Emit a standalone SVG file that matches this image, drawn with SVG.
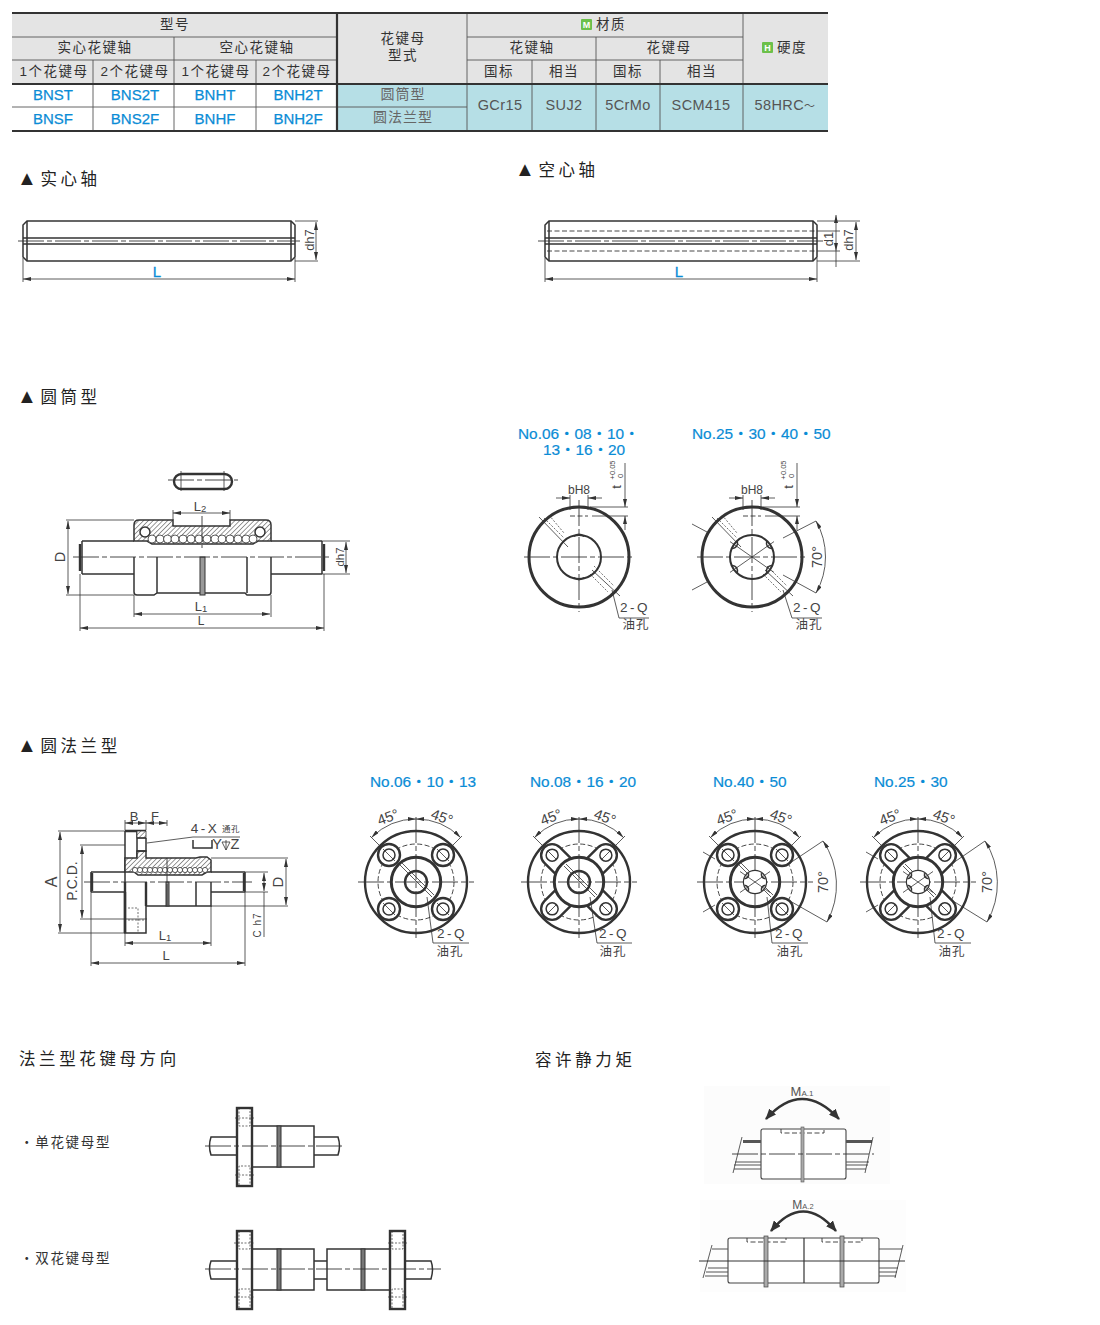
<svg xmlns="http://www.w3.org/2000/svg" width="1100" height="1325" viewBox="0 0 1100 1325">
<style>
text{font-family:"Liberation Sans","Noto Sans CJK SC",sans-serif;fill:#444}
.hd{font-size:13.5px;text-anchor:middle;letter-spacing:1.5px;fill:#333}
.sm{font-size:13.5px;text-anchor:middle;letter-spacing:1.5px;fill:#333}
.bl{font-size:15px;text-anchor:middle;fill:#0a8cd6;stroke:#0a8cd6;stroke-width:.25px}
.cy{font-size:14.5px;text-anchor:middle;fill:#555;letter-spacing:.4px}
.cn{font-size:14px;text-anchor:middle;fill:#666;letter-spacing:1px}
.ti{font-size:16.5px;letter-spacing:3.6px;fill:#222}
.no{font-size:15.4px;fill:#0a8cd6;stroke:#0a8cd6;stroke-width:.2px}
.dm{font-size:13px;text-anchor:middle;fill:#444}
.lg{font-size:14.5px;text-anchor:middle;fill:#444}
.q{font-size:13.5px;text-anchor:middle;letter-spacing:2.5px;fill:#444}
.sub{font-size:12.5px;text-anchor:middle;letter-spacing:1px;fill:#444}
.it{font-size:13.5px;letter-spacing:1.7px;fill:#333}
.L{font-size:15px;text-anchor:middle;fill:#0a8cd6;stroke:#0a8cd6;stroke-width:.3px}
.l,.t,.h,.x,.c,.d,.o{fill:none;stroke:#333}
.l{stroke-width:.8}
.t{stroke-width:1.5}
.h{stroke-width:2.4}
.x{stroke-width:3}
.c{stroke-width:.9;stroke-dasharray:26 3 5 3}
.d{stroke-width:.9;stroke-dasharray:5 2.5}
.o{stroke-width:.7;stroke-dasharray:2 1.5}
.w{fill:#fff}
.a{marker-start:url(#ar);marker-end:url(#ar)}
.g{stroke:#555;stroke-width:.9;fill:none}
</style>
<defs>
<marker id="ar" viewBox="0 0 8 4" refX="8" refY="2" markerWidth="8" markerHeight="4" markerUnits="userSpaceOnUse" orient="auto-start-reverse"><path d="M0 0L8 2L0 4z" fill="#333"/></marker>
<marker id="ab" viewBox="0 0 11 9" refX="10" refY="4.5" markerWidth="11" markerHeight="9" markerUnits="userSpaceOnUse" orient="auto-start-reverse"><path d="M0 0L11 4.5L0 9z" fill="#333"/></marker>
<pattern id="ha" width="3.4" height="3.4" patternUnits="userSpaceOnUse" patternTransform="rotate(45)"><rect width="3.4" height="3.4" fill="#fff"/><line x1="0" y1="0" x2="0" y2="3.4" stroke="#333" stroke-width="1"/></pattern>
<g id="fbase">
<circle r="51" class="h"/>
<circle r="38" class="d"/>
<path class="c" d="M-58 0H58M0 -65V56"/>
<path class="l a" d="M-44.5 -44.5A63 63 0 0 1 0 -63"/>
<path class="l a" d="M44.5 -44.5A63 63 0 0 0 0 -63"/>
<path class="l" d="M-46 -46L-35 -35M46 -46L35 -35"/>
<path class="l" d="M-32 -32L-22 -22M32 -32L22 -22M-32 32L-22 22M32 32L22 22"/>
<path class="l" d="M-17 -18L16 15M-15 -20L18 13"/>
</g>
<g id="bossA">
<circle r="11" class="h w"/><circle r="6" class="t"/><path class="l" d="M-6 -6L6 6"/>
</g>
<g id="arm">
<path class="h w" d="M22 -11H38A11 11 0 0 1 38 11H22"/><circle cx="38" r="6" class="t"/><path class="l" d="M32 0H44"/>
</g>
<g id="inner4">
<circle r="11" class="w"/>
<path class="l" d="M-15 -10.500L15 10.500M-15 10.500L15 -10.500"/>
<g class="t"><path transform="rotate(35)" d="M10.500 -3.500Q7 0 10.500 3.500"/><path transform="rotate(-35)" d="M10.500 -3.500Q7 0 10.500 3.500"/><path transform="rotate(145)" d="M10.500 -3.500Q7 0 10.500 3.500"/><path transform="rotate(215)" d="M10.500 -3.500Q7 0 10.500 3.500"/></g>
</g>
</defs>
<rect width="1100" height="1325" fill="#fff"/>

<g id="spec-table">
<rect x="12" y="13" width="816" height="71" fill="#e4e4e4"/>
<rect x="337" y="84" width="491" height="47" fill="#b6dfe6"/>
<path class="g" d="M12 37H337M12 60H337M467 37H743M467 60H743M12 107H467M93 60V131M256 60V131M174 37V131M467 13V131M532 60V131M660 60V131M596 37V131M743 13V131"/>
<path stroke="#333" stroke-width="2.200" fill="none" d="M12 13H828M12 84H828M12 131H828M337 13V131"/>
<text class="hd" x="175" y="29">型号</text>
<text class="hd" x="95" y="52">实心花键轴</text>
<text class="hd" x="257" y="52">空心花键轴</text>
<text class="sm" x="54" y="76">1个花键母</text>
<text class="sm" x="135" y="76">2个花键母</text>
<text class="sm" x="216" y="76">1个花键母</text>
<text class="sm" x="297" y="76">2个花键母</text>
<text class="hd" x="403" y="43">花键母</text>
<text class="hd" x="403" y="60">型式</text>
<rect x="581" y="19" width="11" height="11" rx="1" fill="#6cc04a"/>
<text x="586.500" y="28" font-size="9" text-anchor="middle" style="fill:#fff" font-weight="700">M</text>
<text class="hd" x="611" y="29">材质</text>
<text class="hd" x="532" y="52">花键轴</text>
<text class="hd" x="669" y="52">花键母</text>
<text class="sm" x="499" y="76">国标</text>
<text class="sm" x="564" y="76">相当</text>
<text class="sm" x="628" y="76">国标</text>
<text class="sm" x="702" y="76">相当</text>
<rect x="762" y="42" width="11" height="11" rx="1" fill="#6cc04a"/>
<text x="767.500" y="51" font-size="9" text-anchor="middle" style="fill:#fff" font-weight="700">H</text>
<text class="hd" x="792" y="52">硬度</text>
<text class="bl" x="53" y="100">BNST</text>
<text class="bl" x="135" y="100">BNS2T</text>
<text class="bl" x="215" y="100">BNHT</text>
<text class="bl" x="298" y="100">BNH2T</text>
<text class="bl" x="53" y="124">BNSF</text>
<text class="bl" x="135" y="124">BNS2F</text>
<text class="bl" x="215" y="124">BNHF</text>
<text class="bl" x="298" y="124">BNH2F</text>
<text class="cn" x="403" y="99">圆筒型</text>
<text class="cn" x="403" y="122">圆法兰型</text>
<text class="cy" x="500" y="110">GCr15</text>
<text class="cy" x="564" y="110">SUJ2</text>
<text class="cy" x="628" y="110">5CrMo</text>
<text class="cy" x="701" y="110">SCM415</text>
<text class="cy" x="785" y="110">58HRC<tspan font-size="11">～</tspan></text>
</g>

<g id="titles">
<text class="ti" x="17" y="185"><tspan font-size="20">▲</tspan>实心轴</text>
<text class="ti" x="515" y="176"><tspan font-size="20">▲</tspan>空心轴</text>
<text class="ti" x="17" y="403"><tspan font-size="20">▲</tspan>圆筒型</text>
<text class="ti" x="17" y="752"><tspan font-size="20">▲</tspan>圆法兰型</text>
<text class="ti" x="19" y="1065">法兰型花键母方向</text>
<text class="ti" x="535" y="1066">容许静力矩</text>
</g>

<g id="solid-shaft">
<path class="t" d="M27 221H291L295 225V257L291 261H27L23 257V225Z"/>
<path class="t" d="M27 221V261M291 221V261M23 238H295M23 244H295"/>
<path class="c" stroke="#666" d="M18 241H300"/>
<path class="l" d="M295 221H318M295 261H318M23 258V282M295 258V282"/>
<path class="l a" d="M316 222V260"/>
<path class="l a" d="M23 279H295"/>
<text class="dm" transform="rotate(-90 314 240)" x="314" y="240">dh7</text>
<text class="L" x="157" y="277">L</text>
</g>

<g id="hollow-shaft">
<path class="t" d="M549 221H813L817 225V257L813 261H549L545 257V225Z"/>
<path class="t" d="M549 221V261M813 221V261M545 238H817M545 244H817"/>
<path class="d" d="M547 231H815M547 251H815"/>
<path class="c" stroke="#666" d="M538 241H824"/>
<path class="l" d="M817 221H860M817 261H860M817 231H840M817 251H840M545 258V282M817 258V282"/>
<path class="l a" d="M836 215V231M836 251V267M836 231V251"/>
<path class="l a" d="M856 222V260"/>
<path class="l a" d="M545 279H817"/>
<text class="dm" transform="rotate(-90 833 239)" x="833" y="239">d1</text>
<text class="dm" transform="rotate(-90 853 240)" x="853" y="240">dh7</text>
<text class="L" x="679" y="277">L</text>
</g>

<g id="cyl-side">
<rect x="174" y="474" width="58" height="15" rx="7.500" class="h"/>
<path class="l" d="M181 471V491M224 471V491"/>
<path class="c" d="M168 480H238"/>
<path class="t" d="M82 541H134M82 574H134M271 541H322M271 574H322M82 541V574M322 541V574"/>
<path class="h" d="M80 544V571M324 544V571"/>
<path class="t" style="fill:url(#ha)" d="M134 541V525Q134 520 139 520H173V526H230V520H266Q271 520 271 525V541H258L253 544H152L147 541Z"/>
<circle cx="145" cy="532" r="5" class="t w"/><circle cx="260" cy="532" r="5" class="t w"/>
<g class="l w">
<circle cx="152" cy="539" r="4"/><circle cx="160" cy="539" r="4"/><circle cx="167.500" cy="539" r="4"/><circle cx="175" cy="539" r="4"/><circle cx="183" cy="539" r="4"/><circle cx="191" cy="539" r="4"/><circle cx="199" cy="539" r="4"/><circle cx="207" cy="539" r="4"/><circle cx="215" cy="539" r="4"/><circle cx="222" cy="539" r="4"/><circle cx="230" cy="539" r="4"/><circle cx="238" cy="539" r="4"/><circle cx="246" cy="539" r="4"/><circle cx="253" cy="539" r="4"/>
</g>
<path class="t" d="M134 557V592Q134 595 137 595H154L157 593H245L247 595H268Q271 595 271 592V557M157 557V593M247 557V593"/>
<rect x="200" y="557" width="5" height="38" fill="#999" stroke="#333" stroke-width="1"/>
<path class="c" d="M73 557H330"/>
<path class="c" d="M202 516V548"/>
<path class="l" d="M173 510V520M230 510V520M66 520H134M66 595H134M322 541H350M322 574H350M134 595V617M271 595V617M80 574V631M324 574V631"/>
<path class="l a" d="M173 513H230"/>
<path class="l a" d="M68 521V594"/>
<path class="l a" d="M346 542V573"/>
<path class="l a" d="M134 614H270"/>
<path class="l a" d="M80 628H324"/>
<text class="dm" x="200" y="511">L<tspan font-size="9.500" dy="1">2</tspan></text>
<text class="lg" transform="rotate(-90 65 557)" x="65" y="557">D</text>
<text font-size="11.500" text-anchor="middle" transform="rotate(-90 344 557)" x="344" y="557">dh7</text>
<text class="dm" x="201" y="611">L<tspan font-size="9.500" dy="1">1</tspan></text>
<text class="dm" style="font-size:12px" x="201" y="625">L</text>
</g>

<g id="cyl-front-a">
<text class="no" x="518" y="439">No.06・08・10・</text>
<text class="no" x="543" y="455">13・16・20</text>
<circle cx="579" cy="557" r="50" class="x"/>
<circle cx="579" cy="557" r="22" class="t" style="stroke-width:2"/>
<path class="c" d="M524 557H635M579 500V612"/>
<path class="t" d="M574 536.500Q579 532 584 536.500M574 577.500Q579 582 584 577.500"/>
<path class="l" d="M539 517L568 547M592 570L620 596"/>
<path class="o" d="M544 518L564 538M549 515L564 533M594 566L614 586M590 574L608 592"/>
<path class="l" d="M570 495V510M588 495V510M590 507H628M592 516H628"/>
<path class="d" d="M570 516H588"/>
<path class="l" marker-end="url(#ar)" d="M556 498H570"/><path class="l" marker-end="url(#ar)" d="M602 498H588"/>
<path class="l" marker-end="url(#ar)" d="M625 463V507"/><path class="l" marker-end="url(#ar)" d="M625 530V516"/>
<path class="l" d="M612 590L619 618H649"/>
<text class="dm" style="font-size:12px" x="579" y="494">bH8</text>
<text class="dm" transform="rotate(-90 621 487)" x="621" y="487">t</text>
<text font-size="7.500" text-anchor="middle" transform="rotate(-90 615 470)" x="615" y="470">+0.05</text>
<text font-size="7.500" text-anchor="middle" transform="rotate(-90 623 476)" x="623" y="476">0</text>
<text class="q" x="635" y="612">2-Q</text>
<text class="sub" x="636" y="629">油孔</text>
</g>

<g id="cyl-front-b">
<text class="no" x="692" y="439">No.25・30・40・50</text>
<circle cx="752" cy="557" r="50" class="x"/>
<circle cx="752" cy="557" r="22" class="t" style="stroke-width:2"/>
<path class="c" d="M697 557H808M752 500V612"/>
<g transform="translate(752 557)"><path class="l" d="M-22 -15.400L22 15.400M-22 15.400L22 -15.400"/>
<g class="t"><path transform="rotate(35)" d="M21.500 -5Q16 0 21.500 5"/><path transform="rotate(-35)" d="M21.500 -5Q16 0 21.500 5"/><path transform="rotate(145)" d="M21.500 -5Q16 0 21.500 5"/><path transform="rotate(215)" d="M21.500 -5Q16 0 21.500 5"/></g>
<path class="l" d="M-60 -33L-45 -25M-60 33L-45 25"/></g>
<path class="l" d="M712 517L741 547M765 570L793 596"/>
<path class="o" d="M717 518L737 538M722 515L737 533M767 566L787 586M763 574L781 592"/>
<path class="l" d="M743 495V510M761 495V510M763 507H800M765 516H800"/>
<path class="d" d="M743 516H761"/>
<path class="l" marker-end="url(#ar)" d="M729 498H743"/><path class="l" marker-end="url(#ar)" d="M775 498H761"/>
<path class="l" marker-end="url(#ar)" d="M797 463V507"/><path class="l" marker-end="url(#ar)" d="M797 530V516"/>
<path class="l" d="M783 538L816 521M783 575L816 593"/>
<path class="l a" d="M816 521A73 73 0 0 1 816 593"/>
<path class="l" d="M783 590L792 618H822"/>
<text class="lg" transform="rotate(-90 817 557)" x="817" y="562">70°</text>
<text class="dm" style="font-size:12px" x="752" y="494">bH8</text>
<text class="dm" transform="rotate(-90 793 487)" x="793" y="487">t</text>
<text font-size="7.500" text-anchor="middle" transform="rotate(-90 786 470)" x="786" y="470">+0.05</text>
<text font-size="7.500" text-anchor="middle" transform="rotate(-90 794 476)" x="794" y="476">0</text>
<text class="q" x="808" y="612">2-Q</text>
<text class="sub" x="809" y="629">油孔</text>
</g>

<g id="flange-side">
<path class="t" d="M91 872H125M91 892H125M211 872H245M211 892H245M91 872V892M245 872V892"/>
<path class="h" d="M92 873V891M244 873V891"/>
<path class="t" d="M125 831V933H146V892M137 831V858"/>
<path class="h" d="M125 831H146M125 892V933"/>
<path class="t" style="fill:url(#ha)" d="M125 872V858H137V851H146V858H196L200 857H207L211 860V872H207L202 875H138L134 872Z"/>
<rect x="137" y="831" width="9" height="7" class="l" style="fill:url(#ha)"/>
<path class="t" d="M137 838H146M137 851H146V838"/>
<path class="t" d="M146 906H211V882M196 882V906"/>
<rect x="166" y="882" width="3" height="24" fill="#888" stroke="#333" stroke-width="1"/>
<path class="h" d="M125 882V933M146 882V906"/>
<g class="l w"><circle cx="135" cy="870" r="2.600"/><circle cx="140" cy="870" r="2.600"/><circle cx="145" cy="870" r="2.600"/><circle cx="150" cy="870" r="2.600"/><circle cx="155" cy="870" r="2.600"/><circle cx="160" cy="870" r="2.600"/><circle cx="165" cy="870" r="2.600"/><circle cx="170" cy="870" r="2.600"/><circle cx="175" cy="870" r="2.600"/><circle cx="180" cy="870" r="2.600"/><circle cx="185" cy="870" r="2.600"/><circle cx="190" cy="870" r="2.600"/><circle cx="195" cy="870" r="2.600"/><circle cx="200" cy="870" r="2.600"/><circle cx="205" cy="870" r="2.600"/></g>
<path class="o" d="M128 908H138V932M128 920H144"/>
<path stroke="#666" class="c" d="M84 882H252"/>
<path class="c" d="M167 858V882M167 906V884"/>
<path class="l" d="M125 820V830M146 820V830M167 820V826M58 831H125M58 933H125M80 845H125M80 919H147M211 858H288M211 906H288M245 872H268M245 892H268M125 933V946M211 906V946M91 892V966M245 892V966M264 892V937"/>
<path class="l a" d="M125 823H146"/><path class="l a" d="M146 823H167"/>
<path class="l a" d="M60 832V932"/><path class="l a" d="M82 846V918"/><path class="l a" d="M286 859V905"/><path class="l a" d="M264 873V891"/><path class="l a" d="M125 943H211"/><path class="l a" d="M91 963H245"/>
<path class="l" d="M147 843L193 837H240"/>
<path class="t" d="M193 840V848H212V840"/>
<path class="l" d="M222 842L226 850L230 842ZM226 840V850"/>
<text class="dm" x="134" y="821">B</text><text class="dm" x="155" y="821">F</text>
<text class="q" x="205" y="833">4-X</text>
<text x="222" y="832" font-size="8.500" letter-spacing=".5">通孔</text>
<text class="lg" x="217" y="849">Y</text><text class="lg" x="235" y="849">Z</text>
<text class="lg" style="font-size:16px" transform="rotate(-90 57 882)" x="57" y="882">A</text>
<text class="lg" style="font-size:14px" transform="rotate(-90 77 881)" x="77" y="881">P.C.D.</text>
<text class="lg" style="font-size:15px" transform="rotate(-90 283 882)" x="283" y="882">D</text>
<text font-size="10" text-anchor="middle" letter-spacing="1" transform="rotate(-90 261 925)" x="261" y="925">C h7</text>
<text class="dm" x="165" y="940">L<tspan font-size="9.500" dy="1">1</tspan></text>
<text class="dm" x="166" y="960">L</text>
</g>

<g id="flange-front-a">
<text class="no" x="370" y="787">No.06・10・13</text>
<use href="#fbase" transform="translate(416 882)"/>
<use href="#bossA" transform="translate(389 855)"/><use href="#bossA" transform="translate(443 855)"/><use href="#bossA" transform="translate(389 909)"/><use href="#bossA" transform="translate(443 909)"/>
<circle cx="416" cy="882" r="24.700" class="x"/><circle cx="416" cy="882" r="11" class="h"/>
<path class="l" d="M427 897L433 943H469"/>
<text class="lg" transform="rotate(-20 388 817)" x="388" y="822">45°</text>
<text class="lg" transform="rotate(20 442 817)" x="442" y="822">45°</text>
<text class="q" x="452" y="938">2-Q</text>
<text class="sub" x="450" y="956">油孔</text>
</g>

<g id="flange-front-b">
<text class="no" x="530" y="787">No.08・16・20</text>
<use href="#fbase" transform="translate(579 882)"/>
<g transform="translate(579 882)"><use href="#arm" transform="rotate(45)"/><use href="#arm" transform="rotate(135)"/><use href="#arm" transform="rotate(225)"/><use href="#arm" transform="rotate(315)"/></g>
<circle cx="579" cy="882" r="24.700" class="x"/><circle cx="579" cy="882" r="11" class="h"/>
<path class="l" d="M590 897L597 943H632"/>
<text class="lg" transform="rotate(-20 551 817)" x="551" y="822">45°</text>
<text class="lg" transform="rotate(20 605 817)" x="605" y="822">45°</text>
<text class="q" x="614" y="938">2-Q</text>
<text class="sub" x="613" y="956">油孔</text>
</g>

<g id="flange-front-c">
<text class="no" x="713" y="787">No.40・50</text>
<use href="#fbase" transform="translate(755 882)"/>
<use href="#bossA" transform="translate(728 855)"/><use href="#bossA" transform="translate(782 855)"/><use href="#bossA" transform="translate(728 909)"/><use href="#bossA" transform="translate(782 909)"/>
<circle cx="755" cy="882" r="24.700" class="x"/><circle cx="755" cy="882" r="11" class="h"/>
<use href="#inner4" transform="translate(755 882)"/>
<path class="l" d="M703 852L715 859M703 912L715 905M790 863L823 841M790 901L827 922"/>
<path class="l a" d="M823 841A78 78 0 0 1 827 922"/>
<path class="l" d="M767 897L772 943H808"/>
<text class="lg" transform="rotate(-20 727 817)" x="727" y="822">45°</text>
<text class="lg" transform="rotate(20 781 817)" x="781" y="822">45°</text>
<text class="lg" transform="rotate(-90 823 882)" x="823" y="887">70°</text>
<text class="q" x="790" y="938">2-Q</text>
<text class="sub" x="790" y="956">油孔</text>
</g>

<g id="flange-front-d">
<text class="no" x="874" y="787">No.25・30</text>
<use href="#fbase" transform="translate(918 882)"/>
<g transform="translate(918 882)"><use href="#arm" transform="rotate(45)"/><use href="#arm" transform="rotate(135)"/><use href="#arm" transform="rotate(225)"/><use href="#arm" transform="rotate(315)"/></g>
<circle cx="918" cy="882" r="24.700" class="x"/><circle cx="918" cy="882" r="11" class="h"/>
<use href="#inner4" transform="translate(918 882)"/>
<path class="l" d="M866 852L878 859M866 912L878 905M953 863L985 841M953 901L987 922"/>
<path class="l a" d="M985 841A78 78 0 0 1 987 922"/>
<path class="l" d="M930 897L935 943H971"/>
<text class="lg" transform="rotate(-20 890 817)" x="890" y="822">45°</text>
<text class="lg" transform="rotate(20 944 817)" x="944" y="822">45°</text>
<text class="lg" transform="rotate(-90 987 882)" x="987" y="887">70°</text>
<text class="q" x="952" y="938">2-Q</text>
<text class="sub" x="952" y="956">油孔</text>
</g>

<g id="orient-single">
<text class="it" x="20" y="1147">・单花键母型</text>
<path class="t" d="M237 1137H211Q208 1146 211 1155H237M314 1137H338Q341 1146 338 1155H314"/>
<path class="t" d="M252 1126H314V1167H252"/>
<rect x="277" y="1126" width="4" height="41" fill="#777" stroke="#333"/>
<rect x="237" y="1108" width="15" height="78" class="h w"/>
<path class="o" d="M239 1108V1126H250V1108M239 1185V1166H250V1185M235 1118H254M235 1175H254"/>
<path class="c" d="M205 1146H343"/>
</g>

<g id="orient-double">
<text class="it" x="20" y="1263">・双花键母型</text>
<path class="t" d="M236 1261H211Q208 1269 211 1279H236M405 1261H431Q434 1269 431 1279H405M314 1261H327M314 1279H327"/>
<path class="t" d="M252 1249H314V1290H252M390 1249H327V1290H390"/>
<rect x="277" y="1249" width="4" height="41" fill="#777" stroke="#333"/>
<rect x="361" y="1249" width="4" height="41" fill="#777" stroke="#333"/>
<rect x="237" y="1231" width="15" height="78" class="h w"/>
<rect x="390" y="1231" width="15" height="78" class="h w"/>
<path class="o" d="M239 1231V1249H250V1231M239 1308V1289H250V1308M392 1231V1249H403V1231M392 1308V1289H403V1308M234 1243H254M234 1297H254M388 1243H407M388 1297H407"/>
<path stroke="#777" class="c" d="M205 1269H441"/>
</g>

<g id="moment-a">
<rect x="704" y="1086" width="186" height="98" fill="#fcfcfc"/>
<rect x="761" y="1129" width="85" height="50" rx="2" fill="#fff" stroke="#444" stroke-width="1.100"/>
<path class="d" d="M781 1129V1133H824V1129"/>
<rect x="801" y="1127" width="3" height="55" fill="#aaa" stroke="#555" stroke-width=".6"/>
<path class="c" d="M732 1154H874"/>
<path stroke="#555" stroke-width="2.800" fill="none" d="M743 1141.500H761M846 1141.500H872"/>
<path stroke="#555" stroke-width="1" fill="none" d="M735 1162H761M734 1165H761M734 1169H761M846 1162H869M846 1165H868M846 1169H866"/>
<path class="l" d="M742 1137L733 1173M873 1137L865 1173"/>
<path stroke="#333" stroke-width="2.500" fill="none" marker-start="url(#ab)" marker-end="url(#ab)" d="M766 1119Q802 1079 839 1119"/>
<text x="802" y="1096" font-size="13" text-anchor="middle" style="fill:#555">M<tspan font-size="8">A.1</tspan></text>
</g>

<g id="moment-b">
<rect x="700" y="1200" width="206" height="92" fill="#fdfdfd"/>
<rect x="728" y="1238" width="151" height="45" rx="2" fill="#fff" stroke="#444" stroke-width="1.100"/>
<path class="l" style="stroke-width:1.200" d="M804 1238V1283"/>
<path class="d" d="M747 1238V1242H786V1238M822 1238V1242H862V1238"/>
<rect x="764" y="1236" width="4" height="51" fill="#aaa" stroke="#444" stroke-width=".7"/>
<rect x="840" y="1236" width="4" height="51" fill="#aaa" stroke="#444" stroke-width=".7"/>
<path stroke="#333" stroke-width="1" fill="none" d="M699 1261H905"/>
<path stroke="#555" stroke-width="1.200" fill="none" d="M712 1249H728M879 1249H902M708 1268H728M706 1272H728M705 1276H728M879 1268H898M879 1272H897M879 1276H896"/>
<path class="l" d="M712 1245L703 1278M903 1245L895 1278"/>
<path stroke="#333" stroke-width="2.500" fill="none" marker-start="url(#ab)" marker-end="url(#ab)" d="M771 1231Q803 1192 836 1231"/>
<text x="803" y="1209" font-size="12" text-anchor="middle" style="fill:#555">M<tspan font-size="7.500">A.2</tspan></text>
</g>
</svg>
